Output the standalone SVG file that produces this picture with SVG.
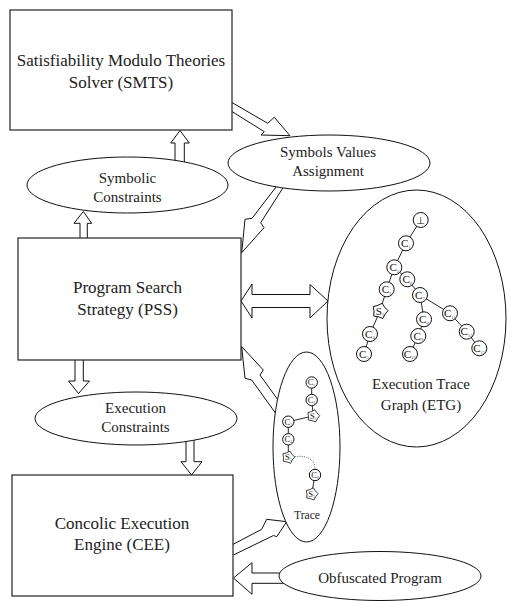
<svg xmlns="http://www.w3.org/2000/svg" xmlns:xlink="http://www.w3.org/1999/xlink" width="510" height="601" viewBox="0 0 510 601">
  <style>
    .box { fill: #fff; stroke: #222; stroke-width: 1.2; }
    .ell { fill: #fff; stroke: #111; stroke-width: 1; }
    .arr { fill: #fff; stroke: #111; stroke-width: 1; stroke-linejoin: miter; }
    .lbl { font-family: "Liberation Serif", "Times New Roman", serif; fill: #222; text-anchor: middle; }
    .big { font-size: 17px; }
    .mid { font-size: 15px; }
    .sm { font-size: 11.5px; }
    .te { stroke: #111; stroke-width: 0.9; fill: none; }
    .tn { fill: #fff; stroke: #111; stroke-width: 1; }
    .nt { font-family: "Liberation Serif", "Times New Roman", serif; font-size: 11px; fill: #111; text-anchor: middle; }
    .nts { font-family: "Liberation Serif", "Times New Roman", serif; font-size: 8.5px; fill: #111; text-anchor: middle; }
    .sb { font-size: 5px; fill: #555; }
    .sbs { font-size: 4px; fill: #555; }
    .dot { stroke: #555; stroke-width: 0.9; fill: none; stroke-dasharray: 1 1.2; }
  </style>
  <defs>
    <!-- small five-pointed state marker used in the trees -->
    <polygon id="star" class="tn" points="2.07,-7.73 4.66,-3.78 7.99,-0.42 5.03,3.27 2.87,7.47 -1.55,5.80 -6.22,5.03 -5.99,0.31 -6.71,-4.36 -2.15,-5.60"/>
  </defs>

  <rect width="510" height="601" fill="#fff"/>

  <!-- block arrows between components -->
  <g id="connectors">
    <!-- SMTS -> Symbols Values Assignment -->
    <polygon class="arr" points="230,101.4 267.7,123.3 274.3,117.3 290,135.7 261,135 264.3,131.7 230,110.3"/>
    <!-- Symbolic Constraints -> SMTS -->
    <polygon class="arr" points="175,166 175,143 170.7,143 180,130.5 189.3,143 184.3,143 184.3,166"/>
    <!-- PSS -> Symbolic Constraints -->
    <polygon class="arr" points="80,241 80,223.3 74,223.3 83.3,211.5 91.7,223.3 87.3,223.3 87.3,241"/>
    <!-- Symbols Values Assignment -> PSS -->
    <polygon class="arr" points="279.9,182 252,218.3 245,219.3 241.7,252.7 264,227.7 260.7,222.7 286.7,182"/>
    <!-- PSS <-> ETG -->
    <polygon class="arr" points="241,301 252,284 252,294.5 310,294.5 310,284.5 328,301 310,318 310,307.5 252,307.5 252,318"/>
    <!-- Trace -> PSS -->
    <polygon class="arr" points="241.7,346.7 263.3,370 260,375 296,425 284.1,425 251.7,380 245,378.3"/>
    <!-- PSS -> Execution Constraints -->
    <polygon class="arr" points="75,358 75,381 68.5,381 78.5,393.5 89.5,381 83.3,381 83.3,358"/>
    <!-- Execution Constraints -> CEE -->
    <polygon class="arr" points="186,436 186,461.7 181,461.7 191.5,475 202,461.7 194,461.7 194,436"/>
    <!-- CEE -> Trace -->
    <polygon class="arr" points="228,547 261.7,529.3 266.7,519.3 286.7,521.7 276.7,536.7 273.5,535.5 228,557.6"/>
    <!-- Obfuscated Program -> CEE -->
    <polygon class="arr" points="284,573 252,573 252,562.7 233.5,578 252,594.3 252,583.3 284,583.3"/>
  </g>

  <g id="smts">
    <rect class="box" x="10" y="10" width="222" height="120"/>
    <text class="lbl big" x="121" y="66">Satisfiability Modulo Theories</text>
    <text class="lbl big" x="121" y="88">Solver (SMTS)</text>
  </g>

  <g id="symbolic-constraints">
    <ellipse class="ell" cx="127.5" cy="185" rx="100.5" ry="28"/>
    <text class="lbl mid" x="127.5" y="183">Symbolic</text>
    <text class="lbl mid" x="127.5" y="202">Constraints</text>
  </g>

  <g id="symbols-values">
    <ellipse class="ell" cx="329" cy="163" rx="101" ry="28"/>
    <text class="lbl mid" x="328" y="157">Symbols Values</text>
    <text class="lbl mid" x="328" y="176">Assignment</text>
  </g>

  <g id="pss">
    <rect class="box" x="18" y="238" width="223" height="122"/>
    <text class="lbl big" x="127.5" y="293">Program Search</text>
    <text class="lbl big" x="127.5" y="315">Strategy (PSS)</text>
  </g>

  <g id="etg">
    <ellipse class="ell" cx="416.5" cy="318.5" rx="89.5" ry="128.5"/>
    <g class="te">
      <polyline points="420.7,220 406,243.3 394.3,267.3 386.7,289.3 380,311 370,334 364,354"/>
      <polyline points="394.3,267.3 407.3,279.3 420,295 424,319.3 418.3,336 410,354"/>
      <polyline points="420,295 450,313.3 466.7,331.7 479.3,348.3"/>
    </g>
    <circle class="tn" cx="420.7" cy="220" r="7.5"/>
    <text x="420.7" y="224" style="font-family:'DejaVu Sans',sans-serif;font-size:10px;fill:#111;text-anchor:middle">⊥</text>
    <circle class="tn" cx="406" cy="243.3" r="7.5"/>
    <text class="nt" x="406" y="247">C<tspan class="sb" dy="1.5">1</tspan></text>
    <circle class="tn" cx="394.3" cy="267.3" r="7.5"/>
    <text class="nt" x="394.3" y="271">C<tspan class="sb" dy="1.5">2</tspan></text>
    <circle class="tn" cx="407.3" cy="279.3" r="7.5"/>
    <text class="nt" x="407.3" y="283">C<tspan class="sb" dy="1.5">6</tspan></text>
    <circle class="tn" cx="386.7" cy="289.3" r="7.5"/>
    <text class="nt" x="386.7" y="293">C<tspan class="sb" dy="1.5">3</tspan></text>
    <circle class="tn" cx="420" cy="295" r="7.5"/>
    <text class="nt" x="420" y="298.7">C<tspan class="sb" dy="1.5">7</tspan></text>
    <use xlink:href="#star" href="#star" transform="translate(380 311)"/>
    <text class="nt" x="380" y="314.7">S<tspan class="sb" dy="1.5">1</tspan></text>
    <circle class="tn" cx="424" cy="319.3" r="7.5"/>
    <text class="nt" x="424" y="323">C<tspan class="sb" dy="1.5">8</tspan></text>
    <circle class="tn" cx="450" cy="313.3" r="7.5"/>
    <text class="nt" x="450" y="317">C<tspan class="sb" dy="1.5">11</tspan></text>
    <circle class="tn" cx="370" cy="334" r="7.5"/>
    <text class="nt" x="370" y="337.7">C<tspan class="sb" dy="1.5">4</tspan></text>
    <circle class="tn" cx="418.3" cy="336" r="7.5"/>
    <text class="nt" x="418.3" y="339.7">C<tspan class="sb" dy="1.5">9</tspan></text>
    <circle class="tn" cx="466.7" cy="331.7" r="7.5"/>
    <text class="nt" x="466.7" y="335.4">C<tspan class="sb" dy="1.5">12</tspan></text>
    <circle class="tn" cx="364" cy="354" r="7.5"/>
    <text class="nt" x="364" y="357.7">C<tspan class="sb" dy="1.5">5</tspan></text>
    <circle class="tn" cx="410" cy="354" r="7.5"/>
    <text class="nt" x="410" y="357.7">C<tspan class="sb" dy="1.5">10</tspan></text>
    <circle class="tn" cx="479.3" cy="348.3" r="7.5"/>
    <text class="nt" x="479.3" y="352">C<tspan class="sb" dy="1.5">13</tspan></text>
    <text class="lbl mid" x="421" y="389">Execution Trace</text>
    <text class="lbl mid" x="421" y="410">Graph (ETG)</text>
  </g>

  <g id="trace">
    <ellipse class="ell" cx="306.5" cy="447" rx="33.5" ry="95"/>
    <g class="te">
      <polyline points="311.7,382.5 311.7,400 313.3,416 288.3,421.7 288.3,439.3 288.3,457.3"/>
      <line x1="315" y1="475" x2="311.7" y2="494"/>
    </g>
    <path class="dot" d="M293,457 C303,455 315,457 315,469"/>
    <circle class="tn" cx="311.7" cy="382.5" r="5.7"/>
    <text class="nts" x="311.7" y="385.4">C<tspan class="sbs" dy="1.2">1</tspan></text>
    <circle class="tn" cx="311.7" cy="400" r="5.7"/>
    <text class="nts" x="311.7" y="402.9">C<tspan class="sbs" dy="1.2">2</tspan></text>
    <use xlink:href="#star" href="#star" transform="translate(313.3 416) scale(0.8)"/>
    <text class="nts" x="313.3" y="418.9">S<tspan class="sbs" dy="1.2">1</tspan></text>
    <circle class="tn" cx="288.3" cy="421.7" r="5.7"/>
    <text class="nts" x="288.3" y="424.6">C<tspan class="sbs" dy="1.2">3</tspan></text>
    <circle class="tn" cx="288.3" cy="439.3" r="5.7"/>
    <text class="nts" x="288.3" y="442.2">C<tspan class="sbs" dy="1.2">4</tspan></text>
    <use xlink:href="#star" href="#star" transform="translate(288.3 457.3) scale(0.8)"/>
    <text class="nts" x="288.3" y="460.2">S<tspan class="sbs" dy="1.2">2</tspan></text>
    <circle class="tn" cx="315" cy="475" r="5.7"/>
    <text class="nts" x="315" y="477.9">C<tspan class="sbs" dy="1.2">6</tspan></text>
    <use xlink:href="#star" href="#star" transform="translate(311.7 494) scale(0.8)"/>
    <text class="nts" x="311.7" y="496.9">S<tspan class="sbs" dy="1.2">3</tspan></text>
    <text class="lbl sm" x="307" y="519">Trace</text>
  </g>

  <g id="execution-constraints">
    <ellipse class="ell" cx="136" cy="418.5" rx="101" ry="26.5"/>
    <text class="lbl mid" x="135.5" y="412.5">Execution</text>
    <text class="lbl mid" x="135.5" y="432">Constraints</text>
  </g>

  <g id="cee">
    <rect class="box" x="12" y="475" width="221" height="121"/>
    <text class="lbl big" x="122" y="529">Concolic Execution</text>
    <text class="lbl big" x="122" y="550">Engine (CEE)</text>
  </g>

  <g id="obfuscated-program">
    <ellipse class="ell" cx="380" cy="576" rx="101" ry="24.5"/>
    <text class="lbl mid" x="380" y="582.5">Obfuscated Program</text>
  </g>
</svg>
